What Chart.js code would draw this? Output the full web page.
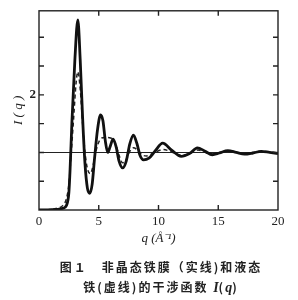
<!DOCTYPE html>
<html>
<head>
<meta charset="utf-8">
<script src="https://cdn.jsdelivr.net/npm/chart.js@4.4.1/dist/chart.umd.min.js"></script>
<style>
  html, body { margin: 0; padding: 0; background: #fff; }
  #wrap { position: relative; width: 298px; height: 300px; }
  #plot { position: absolute; left: 0; top: 0; }
  .cap {
    position: absolute; left: 0; width: 322px; text-align: center;
    font-family: "Noto Sans CJK SC", sans-serif; font-weight: bold;
    font-size: 12px; letter-spacing: 2px; color: #222; white-space: nowrap;
  }
  .cap i { font-family: "Liberation Serif", serif; font-size: 14px; letter-spacing: 0; }
</style>
</head>
<body>
<div id="wrap">
  <canvas id="plot" width="298" height="300"></canvas>
  <div class="cap" style="top:258px">图１　非晶态铁膜（实线)和液态</div>
  <div class="cap" style="top:278px">铁(虚线)的干涉函数 <i>I</i>(<i>q</i>)</div>
</div>
<script>
// amorphous iron film (solid)
const qSolid = [0, 0.5, 1.0, 1.5, 2.0, 2.3, 2.5, 2.6, 2.75, 3.0, 3.25, 3.45, 3.65, 3.85, 4.05, 4.25,
  4.45, 4.65, 4.9, 5.15, 5.35, 5.55, 5.75, 5.95, 6.2, 6.45, 6.7, 7.0, 7.3, 7.6, 7.9, 8.2, 8.45, 8.75,
  9.2, 9.7, 10.35, 11.1, 11.9, 12.6, 13.25, 13.9, 14.5, 15.1, 15.8, 16.5, 17.2, 17.9, 18.6, 19.3, 20];
const iSolid = [0, 0, 0.005, 0.01, 0.03, 0.08, 0.3, 0.7, 1.5, 2.6, 3.3, 2.6, 1.6, 0.8, 0.38, 0.29,
  0.45, 0.9, 1.4, 1.65, 1.55, 1.2, 1.0, 1.1, 1.23, 1.1, 0.85, 0.73, 0.85, 1.15, 1.3, 1.15, 0.95, 0.87,
  0.9, 1.02, 1.16, 1.04, 0.93, 0.98, 1.08, 1.02, 0.96, 0.99, 1.03, 1.0, 0.97, 0.99, 1.02, 1.0, 0.98];

// liquid iron (dashed)
const qDashed = [0, 0.5, 1.0, 1.5, 2.0, 2.3, 2.5, 2.7, 2.9, 3.1, 3.25, 3.45, 3.65, 3.85, 4.05, 4.3,
  4.5, 4.8, 5.1, 5.5, 6.0, 6.4, 6.7, 7.0, 7.3, 7.6, 7.9, 8.2, 8.6, 9.0, 9.6, 10.4, 11.2, 12.0, 12.6,
  13.3, 14.4, 15.8, 17.2, 18.6, 20];
const iDashed = [0, 0, 0.01, 0.03, 0.08, 0.2, 0.45, 1.0, 1.6, 2.2, 2.4, 2.1, 1.5, 1.0, 0.72, 0.63,
  0.75, 1.05, 1.22, 1.26, 1.25, 1.15, 0.95, 0.82, 0.88, 1.02, 1.08, 1.05, 0.96, 0.94, 0.99, 1.05, 1.0,
  0.95, 0.98, 1.04, 0.97, 1.03, 0.98, 1.02, 0.99];

// reference level I(q) = 1
const qRef = [0, 20];
const iRef = [1, 1];

const xTicks = [0, 5, 10, 15, 20];
const yTicks = [0.5, 1, 1.5, 2, 2.5, 3];
const yLabelled = [2];

const toPts = (xs, ys) => xs.map((x, i) => ({ x: x, y: ys[i] }));

const frameTicks = {
  id: 'frameTicks',
  afterDraw(chart) {
    const { ctx, chartArea: a, scales: { x, y } } = chart;
    ctx.save();
    ctx.strokeStyle = '#222';
    ctx.lineWidth = 1.4;
    ctx.strokeRect(a.left, a.top, a.right - a.left, a.bottom - a.top);
    ctx.beginPath();
    xTicks.slice(1, -1).forEach(v => {
      const px = x.getPixelForValue(v);
      ctx.moveTo(px, a.top); ctx.lineTo(px, a.top + 5);
      ctx.moveTo(px, a.bottom); ctx.lineTo(px, a.bottom - 5);
    });
    yTicks.forEach(v => {
      const py = y.getPixelForValue(v);
      ctx.moveTo(a.left, py); ctx.lineTo(a.left + 5, py);
      ctx.moveTo(a.right, py); ctx.lineTo(a.right - 5, py);
    });
    ctx.stroke();
    ctx.restore();
  }
};

new Chart(document.getElementById('plot'), {
  type: 'line',
  data: {
    datasets: [
      { label: '非晶态铁膜', data: toPts(qSolid, iSolid), borderColor: '#111', borderWidth: 2.8,
        pointRadius: 0, cubicInterpolationMode: 'monotone', fill: false },
      { label: '液态铁', data: toPts(qDashed, iDashed), borderColor: '#222', borderWidth: 1.5,
        borderDash: [4, 3], pointRadius: 0, cubicInterpolationMode: 'monotone', fill: false },
      { label: 'I=1', data: toPts(qRef, iRef), borderColor: '#222', borderWidth: 1.1,
        pointRadius: 0, fill: false }
    ]
  },
  options: {
    responsive: false,
    animation: false,
    layout: { padding: { left: 11, right: 20, top: 7, bottom: 50 } },
    plugins: { legend: { display: false }, tooltip: { enabled: false } },
    scales: {
      x: {
        type: 'linear', min: 0, max: 20,
        afterBuildTicks: s => { s.ticks = xTicks.map(v => ({ value: v })); },
        grid: { display: false, drawTicks: false },
        border: { display: false },
        ticks: { padding: 4, color: '#222', maxRotation: 0,
                 font: { family: 'Liberation Serif', size: 13 } },
        title: { display: true, text: 'q (Å⁻¹)', color: '#222', padding: { top: 0, bottom: 4 },
                 font: { family: 'Liberation Serif', size: 13, style: 'italic' } },
        afterFit: s => { s.height = 40; }
      },
      y: {
        min: 0, max: 3.46,
        afterBuildTicks: s => { s.ticks = yTicks.map(v => ({ value: v })); },
        grid: { display: false, drawTicks: false },
        border: { display: false },
        ticks: { padding: 3, color: '#222',
                 callback: v => yLabelled.includes(v) ? String(v) : '',
                 font: { family: 'Liberation Serif', size: 13, weight: 'bold' } },
        title: { display: true, text: 'I ( q )', color: '#222', padding: 0,
                 font: { family: 'Liberation Serif', size: 13, style: 'italic' } },
        afterFit: s => { s.width = 28; }
      }
    }
  },
  plugins: [frameTicks]
});
</script>
</body>
</html>
